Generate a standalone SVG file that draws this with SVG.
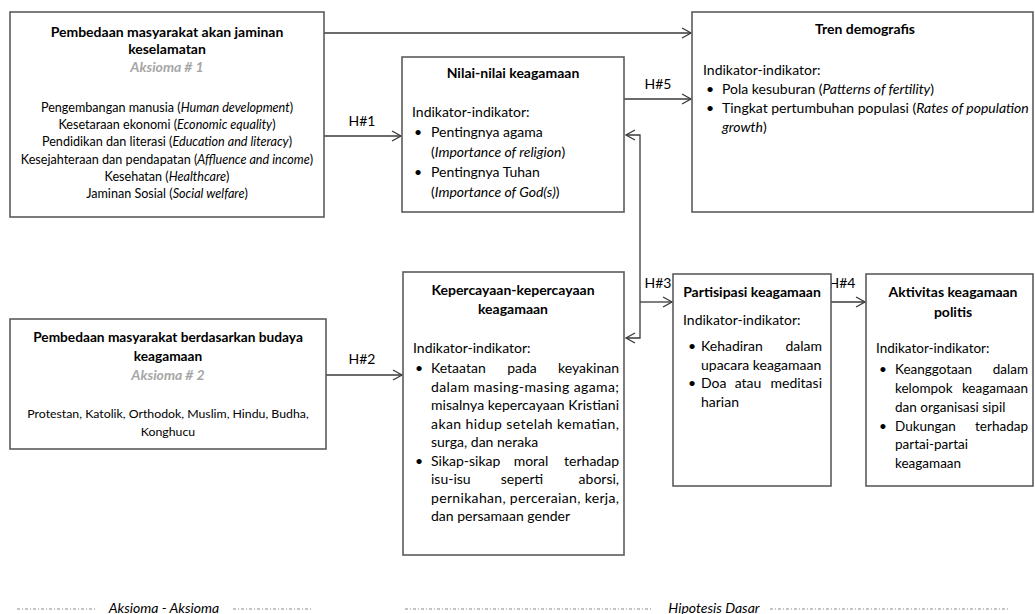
<svg xmlns="http://www.w3.org/2000/svg" width="1035" height="614" viewBox="0 0 1035 614">
<style>
text{font-family:Lato,"Open Sans","Liberation Sans",sans-serif;fill:#000;font-size:14px}
.s{font-size:12.6px}
.s2{font-size:12.3px}
.a{font-size:13.5px}
.b{font-weight:bold}
.c{text-anchor:middle}
.e{text-anchor:end}
.i{font-style:italic}
.g{fill:#a6a6a6;font-weight:bold;font-style:italic}
.box{fill:#fff;stroke:#5c5c5c;stroke-width:1.6}
.ln{fill:none;stroke:#3a3a3a;stroke-width:1.3}
.leg{stroke:#8a8a8a;stroke-width:1.2;stroke-dasharray:3 2 1 2}
</style>
<defs>
<marker id="ah" markerUnits="userSpaceOnUse" markerWidth="12" markerHeight="12" refX="10" refY="6" orient="auto-start-reverse">
<path d="M1,1 L10,6 L1,11" fill="none" stroke="#3a3a3a" stroke-width="1.3"/>
</marker>
</defs>
<rect width="1035" height="614" fill="#fff"/>

<g id="connectors">
<path class="ln" d="M324,33 H691" marker-end="url(#ah)"/>
<path class="ln" d="M324,136 H401" marker-end="url(#ah)"/>
<path class="ln" d="M624,99 H691" marker-end="url(#ah)"/>
<path class="ln" d="M326,375 H402" marker-end="url(#ah)"/>
<path class="ln" d="M626,135 H640 V338 H626" marker-start="url(#ah)" marker-end="url(#ah)"/>
<path class="ln" d="M640,302 H672" marker-end="url(#ah)"/>
<path class="ln" d="M831,302 H865" marker-end="url(#ah)"/>
<text class="c" x="362" y="126">H#1</text>
<text class="c" x="658" y="89">H#5</text>
<text class="c" x="362" y="364">H#2</text>
<text class="c" x="658" y="288">H#3</text>
<text class="c" x="842" y="288">H#4</text>
</g>

<g id="aksioma1">
<rect class="box" x="10" y="12" width="314" height="205"/>
<text class="b c" x="167" y="36.5">Pembedaan masyarakat akan jaminan</text>
<text class="b c" x="167" y="54">keselamatan</text>
<text class="g c" x="167" y="72">Aksioma # 1</text>
<text class="s c" x="167" y="111.5">Pengembangan manusia (<tspan class="i">Human development</tspan>)</text>
<text class="s c" x="167" y="128.8">Kesetaraan ekonomi (<tspan class="i">Economic equality</tspan>)</text>
<text class="s c" x="167" y="146.2">Pendidikan dan literasi (<tspan class="i">Education and literacy</tspan>)</text>
<text class="s c" x="167" y="163.6">Kesejahteraan dan pendapatan (<tspan class="i">Affluence and income</tspan>)</text>
<text class="s c" x="167" y="181">Kesehatan (<tspan class="i">Healthcare</tspan>)</text>
<text class="s c" x="167" y="198.4">Jaminan Sosial (<tspan class="i">Social welfare</tspan>)</text>
</g>

<g id="aksioma2">
<rect class="box" x="10" y="319" width="316" height="130"/>
<text class="b c" x="168" y="342" style="font-size:13.7px">Pembedaan masyarakat berdasarkan budaya</text>
<text class="b c" x="168" y="361" style="font-size:13.7px">keagamaan</text>
<text class="g c" x="168" y="380">Aksioma # 2</text>
<text class="s2 c" x="168" y="418">Protestan, Katolik, Orthodok, Muslim, Hindu, Budha,</text>
<text class="s2 c" x="168" y="436">Konghucu</text>
</g>

<g id="nilai">
<rect class="box" x="402" y="57" width="222" height="155"/>
<text class="b c" x="513" y="78">Nilai-nilai keagamaan</text>
<text x="412" y="117">Indikator-indikator:</text>
<text x="414" y="137">•</text>
<text x="431" y="137">Pentingnya agama</text>
<text x="431" y="157">(<tspan class="i">Importance of religion</tspan>)</text>
<text x="414" y="177">•</text>
<text x="431" y="177">Pentingnya Tuhan</text>
<text x="431" y="197">(<tspan class="i">Importance of God(s)</tspan>)</text>
</g>

<g id="tren">
<rect class="box" x="692" y="12" width="341" height="200"/>
<text class="b c" x="865" y="34">Tren demografis</text>
<text x="703" y="75">Indikator-indikator:</text>
<text x="706" y="94">•</text>
<text x="722" y="94">Pola kesuburan (<tspan class="i">Patterns of fertility</tspan>)</text>
<text x="706" y="113">•</text>
<text x="722" y="113">Tingkat pertumbuhan populasi (<tspan class="i">Rates of population</tspan></text>
<text x="722" y="132"><tspan class="i">growth</tspan>)</text>
</g>

<g id="kepercayaan">
<rect class="box" x="403" y="272" width="221" height="283"/>
<text class="b c" x="513" y="295">Kepercayaan-kepercayaan</text>
<text class="b c" x="513" y="314">keagamaan</text>
<text x="413" y="353">Indikator-indikator:</text>
<text x="415" y="373">•</text>
<text x="431" y="373">Ketaatan</text>
<text class="c" x="522" y="373">pada</text>
<text class="e" x="619" y="373">keyakinan</text>
<text x="431" y="391.5" textLength="188" lengthAdjust="spacing">dalam masing-masing agama;</text>
<text x="431" y="410" textLength="188" lengthAdjust="spacing">misalnya kepercayaan Kristiani</text>
<text x="431" y="428.5" textLength="188" lengthAdjust="spacing">akan hidup setelah kematian,</text>
<text x="431" y="447">surga, dan neraka</text>
<text x="415" y="465.5">•</text>
<text x="431" y="465.5">Sikap-sikap</text>
<text class="c" x="531" y="465.5">moral</text>
<text class="e" x="619" y="465.5">terhadap</text>
<text x="431" y="484">isu-isu</text>
<text class="c" x="522" y="484">seperti</text>
<text class="e" x="619" y="484">aborsi,</text>
<text x="431" y="502.5" textLength="188" lengthAdjust="spacing">pernikahan, perceraian, kerja,</text>
<text x="431" y="521">dan persamaan gender</text>
</g>

<g id="partisipasi">
<rect class="box" x="673" y="274" width="158" height="212"/>
<text class="b c" x="752" y="297">Partisipasi keagamaan</text>
<text x="683" y="325">Indikator-indikator:</text>
<text x="688" y="351">•</text>
<text x="701" y="351">Kehadiran</text>
<text class="e" x="822" y="351">dalam</text>
<text x="701" y="369.5">upacara keagamaan</text>
<text x="688" y="388">•</text>
<text x="701" y="388">Doa</text>
<text class="c" x="748" y="388">atau</text>
<text class="e" x="822" y="388">meditasi</text>
<text x="701" y="406.5">harian</text>
</g>

<g id="aktivitas">
<rect class="box" x="866" y="274" width="167" height="212"/>
<text class="b c" x="953" y="297">Aktivitas keagamaan</text>
<text class="b c" x="953" y="317">politis</text>
<text class="a" x="876" y="353">Indikator-indikator:</text>
<text class="a" x="879" y="374">•</text>
<text class="a" x="895" y="374">Keanggotaan</text>
<text class="a e" x="1028" y="374">dalam</text>
<text class="a" x="895" y="393">kelompok</text>
<text class="a e" x="1028" y="393">keagamaan</text>
<text class="a" x="895" y="411.5">dan organisasi sipil</text>
<text class="a" x="879" y="430.5">•</text>
<text class="a" x="895" y="430.5">Dukungan</text>
<text class="a e" x="1028" y="430.5">terhadap</text>
<text class="a" x="895" y="449">partai-partai</text>
<text class="a" x="895" y="468">keagamaan</text>
</g>

<g id="legend">
<line class="leg" x1="17" y1="609" x2="97" y2="609"/>
<text class="i c" x="164" y="613">Aksioma - Aksioma</text>
<line class="leg" x1="233" y1="609" x2="313" y2="609"/>
<line class="leg" x1="405" y1="609" x2="652" y2="609"/>
<text class="i c" x="714" y="613">Hipotesis Dasar</text>
<line class="leg" x1="770" y1="609" x2="1010" y2="609"/>
</g>
</svg>
